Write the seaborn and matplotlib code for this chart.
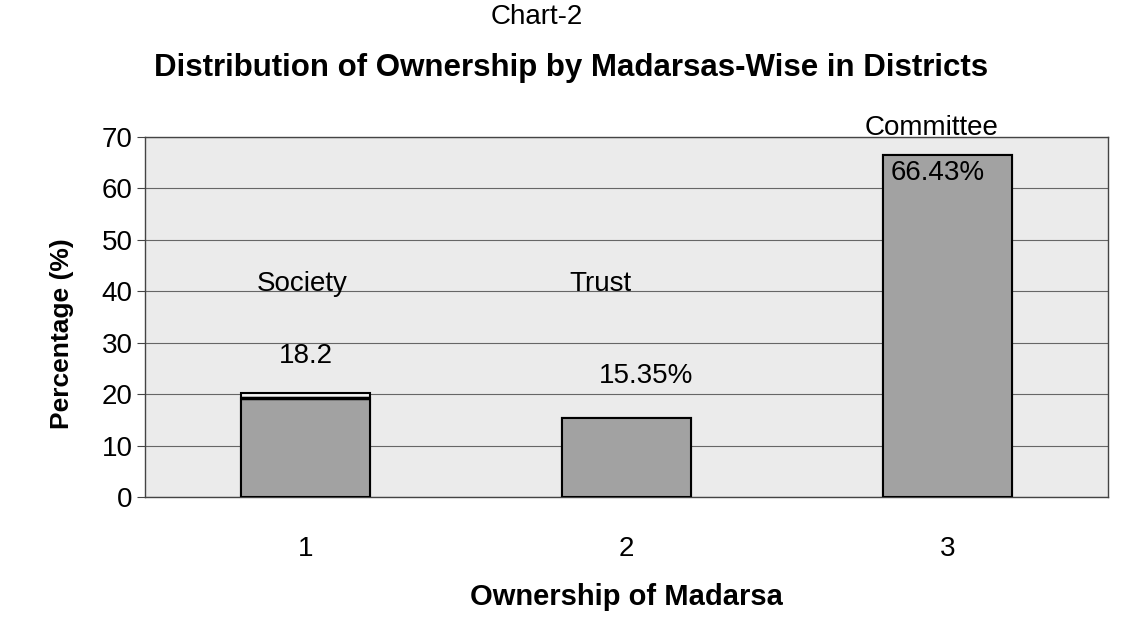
import matplotlib
matplotlib.use("Agg")
import matplotlib.pyplot as plt
import seaborn as sns
import pandas as pd

categories = ["1", "2", "3"]
values = [20.2, 15.35, 66.43]
inner_society = 19.2
names = ["Society", "Trust", "Committee"]
value_labels = ["18.2", "15.35%", "66.43%"]

sns.set_style("white")
plt.rcParams['font.family'] = ['Liberation Sans', 'DejaVu Sans']
plt.rcParams['text.color'] = 'black'
plt.rcParams['axes.labelcolor'] = 'black'
plt.rcParams['xtick.color'] = 'black'
plt.rcParams['ytick.color'] = 'black'

df = pd.DataFrame({"cat": categories, "val": values})

fig = plt.figure(figsize=(11.21, 6.42), dpi=100)
ax = fig.add_axes([145/1121, 1-497/642, (1108-145)/1121, (497-137)/642])
ax.set_facecolor("#ebebeb")

sns.barplot(data=df, x="cat", y="val", color="#f4f4f4", width=0.4,
            edgecolor="black", linewidth=1.5, ax=ax, saturation=1, zorder=3)
inner = [inner_society, values[1], values[2]]
df2 = pd.DataFrame({"cat": categories, "val": inner})
sns.barplot(data=df2, x="cat", y="val", color="#a2a2a2", width=0.4,
            edgecolor="black", linewidth=1.5, ax=ax, saturation=1, zorder=4)
ax.hlines(inner_society, -0.2, 0.2, color="black", linewidth=2.5, zorder=5)

ax.set_ylim(0, 70)
ax.set_xlim(-0.5, 2.5)
ax.set_yticks(range(0, 71, 10))
ax.yaxis.grid(True, color="#666666", linewidth=0.8, zorder=0)
ax.set_axisbelow(True)
for s in ax.spines.values():
    s.set_color("#444444")
    s.set_linewidth(1.0)

ax.tick_params(axis="y", labelsize=20, length=6, color="#444444", left=True, pad=3)
ax.tick_params(axis="x", labelsize=20, length=0, pad=28)

ax.set_xlabel("Ownership of Madarsa", fontsize=21, fontweight="bold", labelpad=15)
ax.set_ylabel("Percentage (%)", fontsize=19, fontweight="bold")
ax.yaxis.set_label_coords(-0.074, 0.455)

fs = 20
ax.text(-0.01, 41.5, names[0], fontsize=fs, ha="center", va="center", zorder=6)
ax.text(0.0, 27.5, value_labels[0], fontsize=fs, ha="center", va="center", zorder=6)
ax.text(0.92, 41.5, names[1], fontsize=fs, ha="center", va="center", zorder=6)
ax.text(1.06, 23.5, value_labels[1], fontsize=fs, ha="center", va="center", zorder=6)
ax.text(1.95, 71.8, names[2], fontsize=fs, ha="center", va="center", zorder=6, clip_on=False)
ax.text(1.97, 63.0, value_labels[2], fontsize=fs, ha="center", va="center", zorder=6)

fig.text(537/1121, 1-17/642, "Chart-2", fontsize=20, ha="center", va="center")
fig.text(571/1121, 1-68/642, "Distribution of Ownership by Madarsas-Wise in Districts",
         fontsize=22.5, fontweight="bold", ha="center", va="center")

fig.savefig("out.png", dpi=100)
